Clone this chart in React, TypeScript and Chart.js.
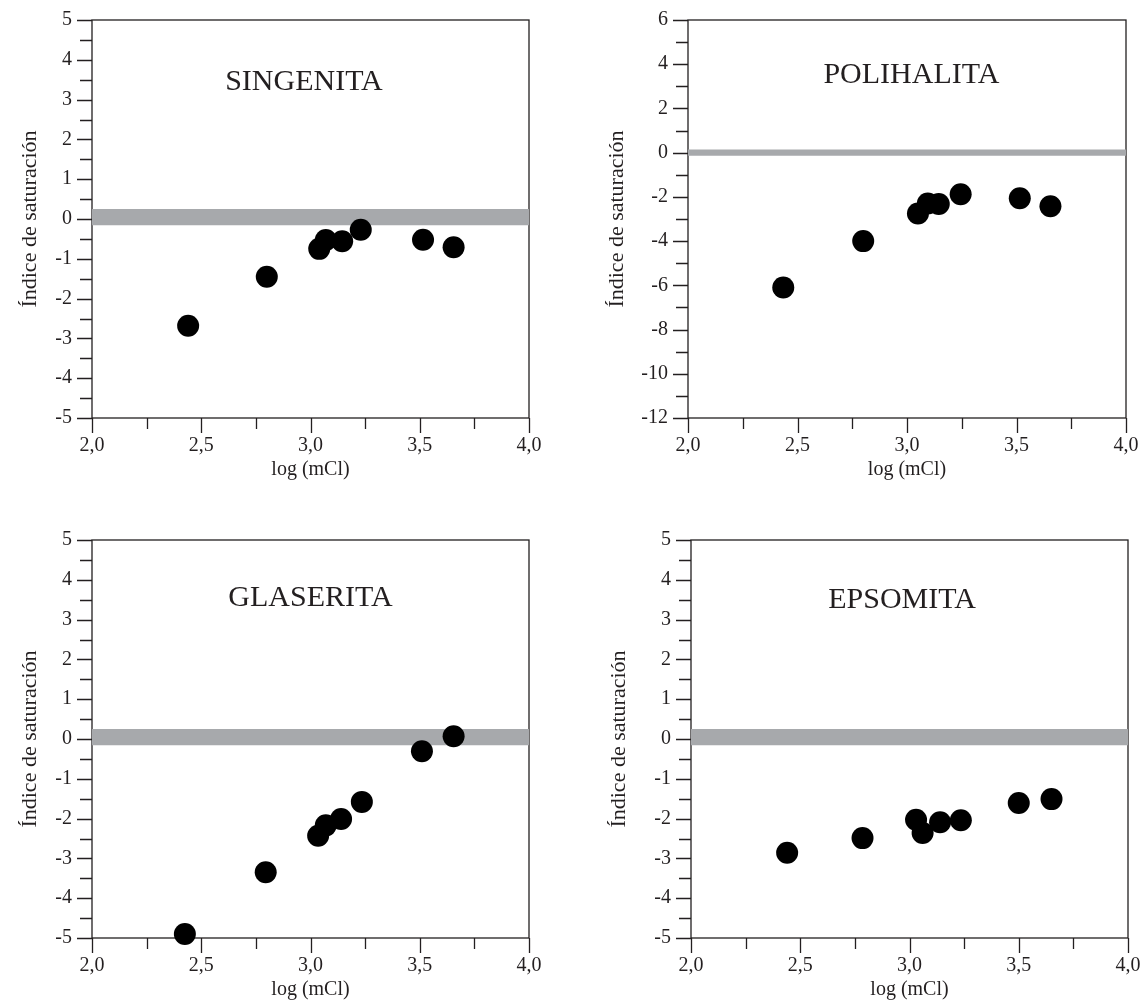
import React, { useEffect, useRef } from 'react';
import { Chart, registerables } from 'chart.js';

Chart.register(...registerables);

// ---------- data ----------
const panelNames = ['SINGENITA', 'POLIHALITA', 'GLASERITA', 'EPSOMITA'];

const singenitaX = [2.44, 2.8, 3.04, 3.07, 3.145, 3.23, 3.515, 3.655];
const singenitaY = [-2.68, -1.45, -0.75, -0.53, -0.56, -0.27, -0.52, -0.71];

const polihalitaX = [2.435, 2.8, 3.05, 3.095, 3.145, 3.245, 3.515, 3.655];
const polihalitaY = [-6.1, -4.0, -2.75, -2.3, -2.32, -1.88, -2.06, -2.42];

const glaseritaX = [2.425, 2.795, 3.035, 3.07, 3.14, 3.235, 3.51, 3.655];
const glaseritaY = [-4.9, -3.35, -2.43, -2.17, -2.01, -1.58, -0.31, 0.07];

const epsomitaX = [2.44, 2.785, 3.03, 3.06, 3.14, 3.235, 3.5, 3.65];
const epsomitaY = [-2.86, -2.49, -2.03, -2.36, -2.09, -2.04, -1.61, -1.51];

// saturation band (low, high) per panel
const bandSingenita = [-0.16, 0.25];
const bandPolihalita = [-0.14, 0.14];
const bandGlaserita = [-0.16, 0.25];
const bandEpsomita = [-0.16, 0.25];

// axis ranges / ticks
const xRange = [2, 4];
const xMinorStep = 0.25;
const xLabelStep = 0.5;
const yRangeDefault = [-5, 5];
const yRangePolihalita = [-12, 6];
const yMinorStepDefault = 0.5;
const yLabelStepDefault = 1;
const yMinorStepPolihalita = 1;
const yLabelStepPolihalita = 2;

// title anchor (data coordinates)
const titleAnchorSingenita = [2.97, 3.45];
const titleAnchorPolihalita = [3.02, 3.5];
const titleAnchorGlaserita = [3.0, 3.54];
const titleAnchorEpsomita = [2.966, 3.5];

const xTitle = 'log (mCl)';
const yTitle = 'Índice de saturación';

// ---------- styles / layout ----------
const FONT = '"Liberation Serif", "Times New Roman", Times, serif';
const AXIS = '#231f20';
const BAND = '#a7a9ac';
const POINT = '#000000';

type Layout = {
  left: number; top: number; w: number; h: number;
  aLeft: number; aTop: number; aRight: number; aBottom: number;
  titleBottom: number; yTitleCenter: number;
};

const layouts: Layout[] = [
  { left: 0, top: 0, w: 573, h: 501, aLeft: 92, aTop: 20, aRight: 529, aBottom: 418, titleBottom: 482, yTitleCenter: 30 },
  { left: 573, top: 0, w: 573, h: 501, aLeft: 115, aTop: 20, aRight: 553, aBottom: 418, titleBottom: 482, yTitleCenter: 44 },
  { left: 0, top: 501, w: 573, h: 501, aLeft: 92, aTop: 39, aRight: 529, aBottom: 437, titleBottom: 501, yTitleCenter: 30 },
  { left: 573, top: 501, w: 573, h: 501, aLeft: 118, aTop: 39, aRight: 555, aBottom: 437, titleBottom: 501, yTitleCenter: 46 },
];

const panels = [
  { name: panelNames[0], x: singenitaX, y: singenitaY, band: bandSingenita, yRange: yRangeDefault, yMinor: yMinorStepDefault, yLabel: yLabelStepDefault, anchor: titleAnchorSingenita },
  { name: panelNames[1], x: polihalitaX, y: polihalitaY, band: bandPolihalita, yRange: yRangePolihalita, yMinor: yMinorStepPolihalita, yLabel: yLabelStepPolihalita, anchor: titleAnchorPolihalita },
  { name: panelNames[2], x: glaseritaX, y: glaseritaY, band: bandGlaserita, yRange: yRangeDefault, yMinor: yMinorStepDefault, yLabel: yLabelStepDefault, anchor: titleAnchorGlaserita },
  { name: panelNames[3], x: epsomitaX, y: epsomitaY, band: bandEpsomita, yRange: yRangeDefault, yMinor: yMinorStepDefault, yLabel: yLabelStepDefault, anchor: titleAnchorEpsomita },
];

const isMult = (v: number, step: number) => Math.abs(v / step - Math.round(v / step)) < 1e-6;

const zeroPad = (s: any) => {
  s.paddingTop = 0;
  s.paddingBottom = 0;
  s.paddingLeft = 0;
  s.paddingRight = 0;
};

const decorPlugin = {
  id: 'panelDecor',
  beforeDatasetsDraw(chart: any, _args: any, opts: any) {
    const { ctx, chartArea } = chart;
    const { left, top, right, bottom } = chartArea;
    ctx.save();
    ctx.strokeStyle = AXIS;
    ctx.lineWidth = 1.3;
    ctx.strokeRect(left, top, right - left, bottom - top);
    const xs = chart.scales.x;
    const ys = chart.scales.y;
    ctx.beginPath();
    xs.ticks.forEach((t: any) => {
      const px = Math.round(xs.getPixelForValue(t.value)) + 0.5;
      const len = isMult(t.value, xLabelStep) ? 15 : 11;
      ctx.moveTo(px, bottom);
      ctx.lineTo(px, bottom + len);
    });
    ys.ticks.forEach((t: any) => {
      const py = Math.round(ys.getPixelForValue(t.value)) + 0.5;
      const len = isMult(t.value, opts.yLabel) ? 15 : 12;
      ctx.moveTo(left, py);
      ctx.lineTo(left - len, py);
    });
    ctx.stroke();
    ctx.restore();
  },
  afterDatasetsDraw(chart: any, _args: any, opts: any) {
    const { ctx } = chart;
    const xs = chart.scales.x;
    const ys = chart.scales.y;
    ctx.save();
    ctx.fillStyle = AXIS;
    ctx.font = `30px ${FONT}`;
    ctx.textAlign = 'center';
    ctx.textBaseline = 'middle';
    ctx.fillText(opts.name, xs.getPixelForValue(opts.anchor[0]), ys.getPixelForValue(opts.anchor[1]));
    ctx.restore();
  },
};

function Panel({ idx }: { idx: number }) {
  const ref = useRef<HTMLCanvasElement>(null);
  const p = panels[idx];
  const L = layouts[idx];
  useEffect(() => {
    const chart = new Chart(ref.current as HTMLCanvasElement, {
      type: 'scatter',
      data: {
        datasets: [
          {
            type: 'line',
            data: [
              { x: xRange[0], y: p.band[1] },
              { x: xRange[1], y: p.band[1] },
            ],
            borderColor: 'rgba(0,0,0,0)',
            borderWidth: 0,
            pointRadius: 0,
            fill: { value: p.band[0] },
            backgroundColor: BAND,
            order: 2,
            clip: false,
          } as any,
          {
            data: p.x.map((x, i) => ({ x, y: p.y[i] })),
            backgroundColor: POINT,
            borderColor: POINT,
            borderWidth: 0,
            pointRadius: 11,
            pointHoverRadius: 11,
            order: 1,
            clip: false,
          } as any,
        ],
      },
      options: {
        responsive: false,
        animation: false,
        events: [],
        layout: {
          padding: { left: 0, top: L.aTop, right: L.w - L.aRight, bottom: L.h - L.titleBottom },
        },
        plugins: {
          legend: { display: false },
          tooltip: { enabled: false },
          panelDecor: { name: p.name, anchor: p.anchor, yLabel: p.yLabel },
        } as any,
        scales: {
          x: {
            type: 'linear',
            min: xRange[0],
            max: xRange[1],
            grid: { display: false, drawTicks: false },
            border: { display: false },
            ticks: {
              stepSize: xMinorStep,
              autoSkip: false,
              maxRotation: 0,
              padding: 16,
              color: AXIS,
              font: { family: FONT, size: 20 },
              callback: (v: any) => (isMult(Number(v), xLabelStep) ? Number(v).toFixed(1).replace('.', ',') : ''),
            },
            title: { display: true, text: xTitle, color: AXIS, font: { family: FONT, size: 20 }, padding: 0 },
            afterFit: (s: any) => { s.height = L.titleBottom - L.aBottom; zeroPad(s); },
          },
          y: {
            type: 'linear',
            min: p.yRange[0],
            max: p.yRange[1],
            grid: { display: false, drawTicks: false },
            border: { display: false },
            ticks: {
              stepSize: p.yMinor,
              autoSkip: false,
              padding: 20,
              color: AXIS,
              font: { family: FONT, size: 20 },
              callback: (v: any) => (isMult(Number(v), p.yLabel) ? String(Math.round(Number(v))) : ''),
            },
            title: { display: true, text: yTitle, color: AXIS, font: { family: FONT, size: 22 }, padding: { top: L.yTitleCenter - 13.2, bottom: 0 } },
            afterFit: (s: any) => { s.width = L.aLeft; zeroPad(s); },
          },
        },
      } as any,
      plugins: [decorPlugin as any],
    });
    return () => chart.destroy();
  }, []);
  return (
    <div style={{ position: 'absolute', left: L.left, top: L.top, width: L.w, height: L.h }}>
      <canvas ref={ref} width={L.w} height={L.h} style={{ display: 'block', width: L.w, height: L.h }} />
    </div>
  );
}

export default function App() {
  return (
    <div style={{ position: 'absolute', left: 0, top: 0, width: 1146, height: 1002, background: '#ffffff', overflow: 'hidden' }}>
      {panels.map((_, i) => (
        <Panel key={i} idx={i} />
      ))}
    </div>
  );
}
